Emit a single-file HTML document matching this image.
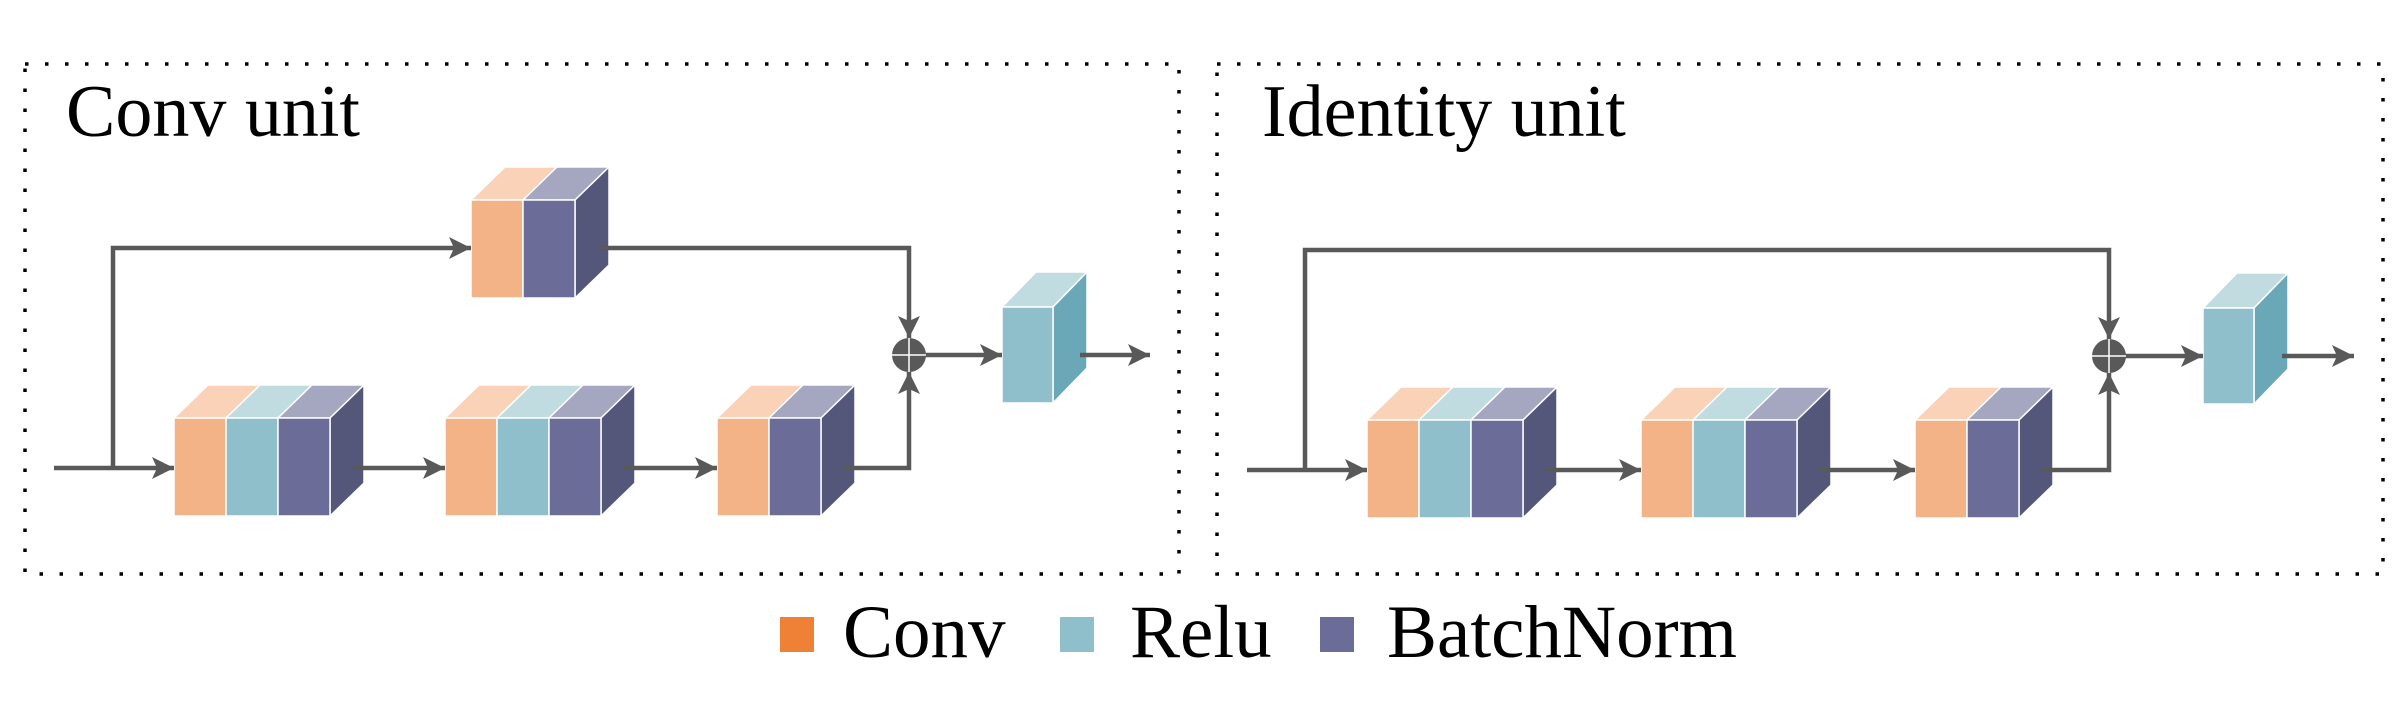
<!DOCTYPE html>
<html><head><meta charset="utf-8"><style>
html,body{margin:0;padding:0;background:#fff;}
svg{display:block;}
text{font-family:"Liberation Serif","Times New Roman",serif;fill:#000;}
</style></head><body>
<svg width="2403" height="705" viewBox="0 0 2403 705" xmlns="http://www.w3.org/2000/svg">
<defs>
<marker id="ah" markerUnits="userSpaceOnUse" markerWidth="24" markerHeight="24" viewBox="0 0 24 24" refX="22" refY="12" orient="auto">
<path d="M0,1 L22,12 L0,23 L5,12 Z" fill="#595959"/>
</marker>
<g id="b3" stroke="#fff" stroke-width="1.5" stroke-linejoin="round">
<polygon points="0,0 52,0 86,-33 34,-33" fill="#F9D2B8"/>
<polygon points="52,0 104,0 138,-33 86,-33" fill="#C1DCE1"/>
<polygon points="104,0 156,0 190,-33 138,-33" fill="#A5A6C0"/>
<polygon points="156,0 190,-33 190,65 156,98" fill="#55577A"/>
<rect x="0" y="0" width="52" height="98" fill="#F3B386"/>
<rect x="52" y="0" width="52" height="98" fill="#8FBFCA"/>
<rect x="104" y="0" width="52" height="98" fill="#6B6C97"/>
</g>
<g id="b2" stroke="#fff" stroke-width="1.5" stroke-linejoin="round">
<polygon points="0,0 52,0 86,-33 34,-33" fill="#F9D2B8"/>
<polygon points="52,0 104,0 138,-33 86,-33" fill="#A5A6C0"/>
<polygon points="104,0 138,-33 138,65 104,98" fill="#55577A"/>
<rect x="0" y="0" width="52" height="98" fill="#F3B386"/>
<rect x="52" y="0" width="52" height="98" fill="#6B6C97"/>
</g>
<g id="br" stroke="#fff" stroke-width="1.5" stroke-linejoin="round">
<polygon points="0,0 51,0 85,-35 34,-35" fill="#C1DCE1"/>
<polygon points="51,0 85,-35 85,61 51,96" fill="#6AA8B8"/>
<rect x="0" y="0" width="51" height="96" fill="#8FBFCA"/>
</g>
<g id="sum">
<circle cx="0" cy="0" r="17" fill="#595959"/>
<line x1="-17" y1="0" x2="17" y2="0" stroke="#fff" stroke-width="1.5"/>
<line x1="0" y1="-17" x2="0" y2="17" stroke="#fff" stroke-width="1.5"/>
</g>
</defs>

<g stroke="#000" stroke-width="3.5" stroke-dasharray="3.5 16.5" fill="none">
<rect x="25" y="64" width="1154" height="510"/>
<rect x="1217" y="64" width="1166" height="510"/>
</g>

<text x="66" y="136" font-size="74">Conv unit</text>
<text x="1262" y="136" font-size="74">Identity unit</text>

<use href="#b3" x="174" y="418"/>
<use href="#b3" x="445" y="418"/>
<use href="#b2" x="717" y="418"/>
<use href="#b2" x="471" y="200"/>
<use href="#br" x="1002" y="307"/>
<g stroke="#595959" stroke-width="4.5" fill="none">
<line x1="54" y1="468" x2="174" y2="468" marker-end="url(#ah)"/>
<polyline points="113,468 113,248 471,248" marker-end="url(#ah)"/>
<line x1="353" y1="468" x2="445" y2="468" marker-end="url(#ah)"/>
<line x1="624" y1="468" x2="717" y2="468" marker-end="url(#ah)"/>
<polyline points="843,468 909,468 909,372" marker-end="url(#ah)"/>
<polyline points="600,248 909,248 909,338" marker-end="url(#ah)"/>
<line x1="909" y1="355" x2="1002" y2="355" marker-end="url(#ah)"/>
<line x1="1080" y1="355" x2="1150" y2="355" marker-end="url(#ah)"/>
</g>
<use href="#sum" x="909" y="355"/>

<use href="#b3" x="1367" y="420"/>
<use href="#b3" x="1641" y="420"/>
<use href="#b2" x="1915" y="420"/>
<use href="#br" x="2203" y="308"/>
<g stroke="#595959" stroke-width="4.5" fill="none">
<line x1="1247" y1="470" x2="1367" y2="470" marker-end="url(#ah)"/>
<polyline points="1305,470 1305,250 2109,250 2109,339" marker-end="url(#ah)"/>
<line x1="1546" y1="470" x2="1641" y2="470" marker-end="url(#ah)"/>
<line x1="1820" y1="470" x2="1915" y2="470" marker-end="url(#ah)"/>
<polyline points="2041,470 2109,470 2109,373" marker-end="url(#ah)"/>
<line x1="2109" y1="356" x2="2203" y2="356" marker-end="url(#ah)"/>
<line x1="2282" y1="356" x2="2354" y2="356" marker-end="url(#ah)"/>
</g>
<use href="#sum" x="2109" y="356"/>

<rect x="780" y="617" width="34" height="35" fill="#EE8135"/>
<text x="843" y="657" font-size="75">Conv</text>
<rect x="1060" y="617" width="34" height="35" fill="#8FBFCA"/>
<text x="1130" y="657" font-size="75">Relu</text>
<rect x="1320" y="617" width="34" height="35" fill="#6B6C97"/>
<text x="1387" y="657" font-size="75">BatchNorm</text>
</svg>
</body></html>
